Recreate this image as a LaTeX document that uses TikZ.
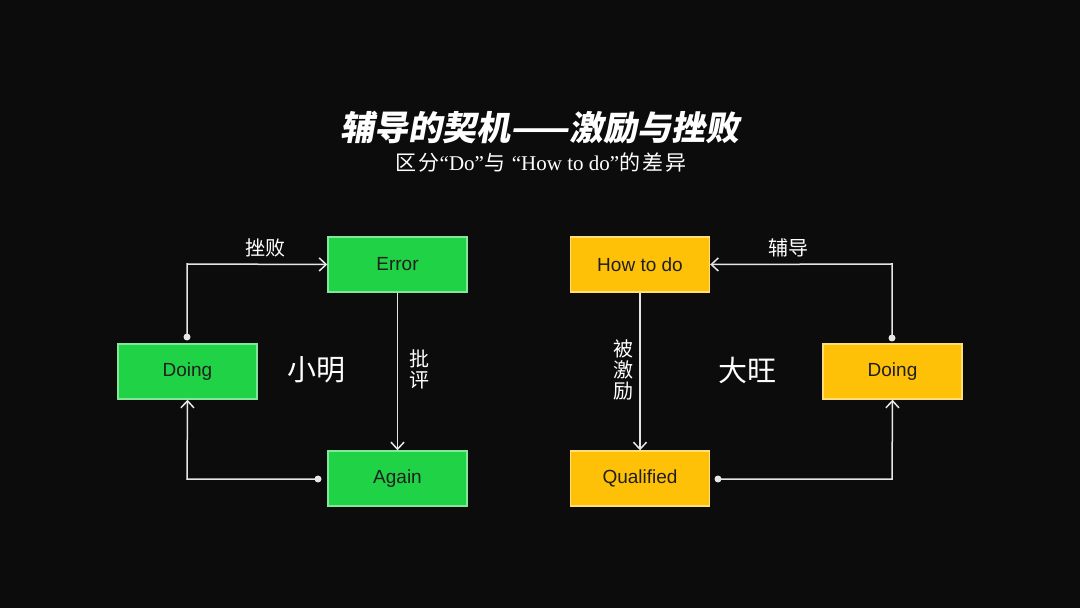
\documentclass[tikz,border=0pt]{standalone}
\usepackage{fontspec}
\setmainfont{Liberation Sans}
\newfontfamily\cjk{Noto Sans CJK SC}
\newfontfamily\cjks[LetterSpace=10]{Noto Sans CJK SC}
\newfontfamily\cjkt[FakeSlant=0.18]{Noto Sans CJK SC}
\newfontfamily\serifl{Liberation Serif}
\usetikzlibrary{arrows.meta}
\definecolor{bg}{HTML}{0C0C0C}
\definecolor{gbox}{HTML}{1FD246}
\definecolor{ybox}{HTML}{FFC107}
\definecolor{wire}{HTML}{E6E6E6}
\begin{document}
\begin{tikzpicture}[x=0.5pt,y=-0.5pt,
  box/.style={fill=#1, draw=#1!55!white, line width=0.7pt, minimum width=69.5pt, minimum height=27.5pt, inner sep=0pt, font=\fontsize{9.5}{11}\selectfont, text=black!88},
  conn/.style={draw=wire, line width=0.75pt, -{Straight Barb[length=3.5pt,width=6.5pt,line width=0.75pt]}},
  startdot/.style={circle, fill=wire, inner sep=0pt, minimum size=3.5pt},
  lbl/.style={text=white, font=\cjk\fontsize{10}{11}\selectfont, inner sep=0pt},
  vlbl/.style={text=white, font=\cjk\fontsize{10}{10.5}\selectfont, inner sep=0pt, align=center},
  big/.style={text=white, font=\cjk\fontsize{14.5}{16}\selectfont, inner sep=0pt}]
\fill[bg] (0,0) rectangle (1080,608);
\useasboundingbox (0,0) rectangle (1080,608);

% title
\node[text=white, inner sep=0pt, font=\cjkt\bfseries\fontsize{17}{19}\selectfont] (title) at (540,128) {辅导的契机——激励与挫败};
\node[text=white, inner sep=0pt, font=\fontsize{10.5}{12}\selectfont] (subtitle) at (541,163) {\cjks 区分\serifl“Do”\cjks 与 \serifl“How to do”\cjks 的差异};

% left diagram
\node[box=gbox] (ldoing) at (187.5,371.5) {Doing};
\node[box=gbox] (error) at (397.5,264.5) {Error};
\node[box=gbox] (again) at (397.5,478.5) {Again};
\node[big] (xm) at (316,370) {小明};

\node[startdot] (d1) at (187,337) {};
\coordinate (c1) at (187,264);
\draw[conn] (d1.center) -- (c1) -- (error.west);
\node[lbl] (l1) at (265,248) {挫败};

\draw[conn] (error.south) -- (again.north);
\node[vlbl] (l2) at (419,369) {批\\评};

\node[startdot] (d2) at (318,479) {};
\coordinate (c2) at (187,479);
\draw[conn] (d2.center) -- (c2) -- (ldoing.south);

% right diagram
\node[box=ybox] (howto) at (640,264.5) {How to do};
\node[box=ybox] (qual) at (640,478.5) {Qualified};
\node[box=ybox] (rdoing) at (892.5,371.5) {Doing};
\node[big] (dw) at (747,370) {大旺};

\node[startdot] (d3) at (892,338) {};
\coordinate (c3) at (892,264);
\draw[conn] (d3.center) -- (c3) -- (howto.east);
\node[lbl] (l3) at (788,248) {辅导};

\draw[conn] (howto.south) -- (qual.north);
\node[vlbl] (l4) at (623,370) {被\\激\\励};

\node[startdot] (d4) at (718,479) {};
\coordinate (c4) at (892,479);
\draw[conn] (d4.center) -- (c4) -- (rdoing.south);
\end{tikzpicture}
\end{document}
